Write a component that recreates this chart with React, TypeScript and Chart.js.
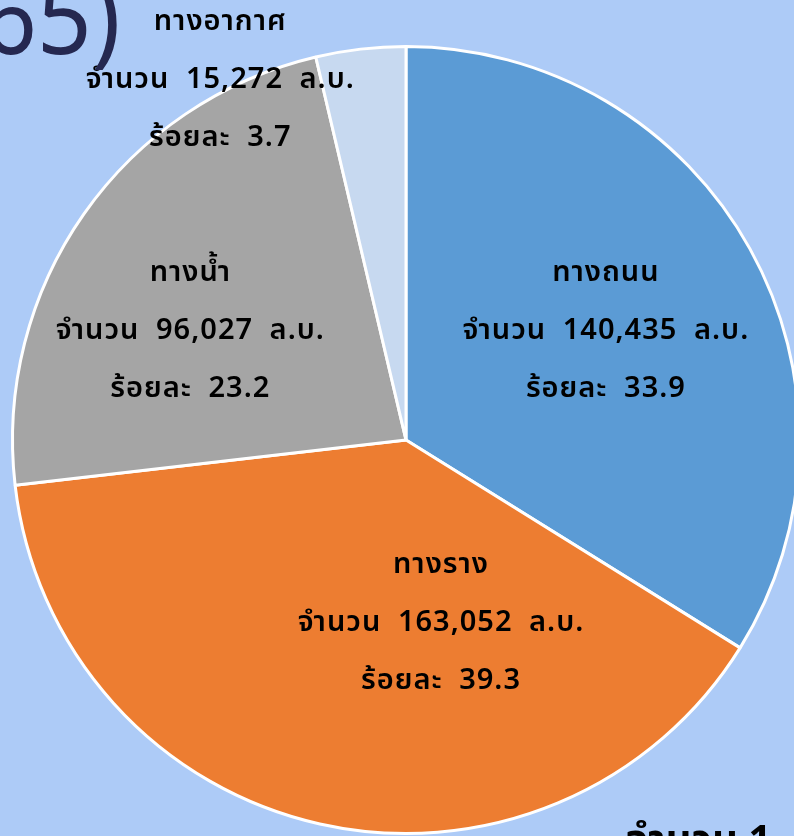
import React, { useEffect, useRef } from "react";
import { Chart, registerables } from "chart.js";

Chart.register(...registerables);

const categories = ["ทางถนน", "ทางราง", "ทางน้ำ", "ทางอากาศ"];
const volumes = [140435, 163052, 96027, 15272];
const percents = [33.9, 39.3, 23.2, 3.7];
const sliceColors = ["#5b9bd5", "#ed7d31", "#a5a5a5", "#c7d9f0"];

// label anchors as fractions of the outer radius, relative to the pie centre
const labelAnchors = [
  [0.508, -0.272],
  [0.089, 0.47],
  [-0.548, -0.272],
  [-0.472, -0.91],
];

const THAI_FONT = "'Noto Sans Thai', 'Noto Sans Thai UI', Tahoma, 'Noto Sans', sans-serif";

const labelPlugin = {
  id: "sliceLabels",
  afterDatasetsDraw(chart: any) {
    const meta = chart.getDatasetMeta(0);
    const ctx = chart.ctx;
    ctx.save();
    ctx.fillStyle = "#000000";
    ctx.textAlign = "center";
    ctx.textBaseline = "middle";
    ctx.font = `600 29px ${THAI_FONT}`;
    try {
      (ctx as any).letterSpacing = "1px";
      (ctx as any).wordSpacing = "8px";
    } catch (e) {}
    meta.data.forEach((arc: any, i: number) => {
      const R = arc.outerRadius;
      const cx = arc.x + labelAnchors[i][0] * R;
      const cy = arc.y + labelAnchors[i][1] * R;
      const lines = [
        categories[i],
        `จำนวน ${volumes[i].toLocaleString("en-US")} ล.บ.`,
        `ร้อยละ ${percents[i].toFixed(1)}`,
      ];
      lines.forEach((t, k) => ctx.fillText(t, cx, cy + (k - 1) * 58));
    });
    ctx.restore();
  },
};

export default function App() {
  const ref = useRef<HTMLCanvasElement>(null);
  useEffect(() => {
    if (!ref.current) return;
    const chart = new Chart(ref.current, {
      type: "pie",
      data: {
        labels: categories,
        datasets: [
          {
            data: volumes,
            backgroundColor: sliceColors,
            borderColor: "#ffffff",
            borderWidth: 3,
          },
        ],
      },
      options: {
        responsive: false,
        animation: false,
        layout: { padding: { left: 11, top: 45, right: 0, bottom: 1 } },
        plugins: {
          legend: { display: false },
          tooltip: { enabled: false },
          title: { display: false },
        },
      },
      plugins: [labelPlugin],
    });
    return () => chart.destroy();
  }, []);

  return (
    <div
      style={{
        position: "fixed",
        left: 0,
        top: 0,
        width: 794,
        height: 836,
        overflow: "hidden",
        background: "#adcbf7",
      }}
    >
      <canvas
        ref={ref}
        width={801}
        height={836}
        style={{ position: "absolute", left: 0, top: 0, width: 801, height: 836 }}
      />
      <div
        style={{
          position: "absolute",
          right: 674,
          top: -38,
          fontFamily: "'Noto Sans', sans-serif",
          fontSize: 104,
          lineHeight: "104px",
          color: "#252850",
          whiteSpace: "nowrap",
          transform: "scaleX(0.92)",
          transformOrigin: "right top",
        }}
      >
        (2565)
      </div>
      <div
        style={{
          position: "absolute",
          left: 626,
          top: 816,
          fontFamily: THAI_FONT,
          fontWeight: "bold",
          fontSize: 40,
          lineHeight: "50px",
          color: "#000000",
          whiteSpace: "nowrap",
        }}
      >
        จำนวน 1
      </div>
    </div>
  );
}
